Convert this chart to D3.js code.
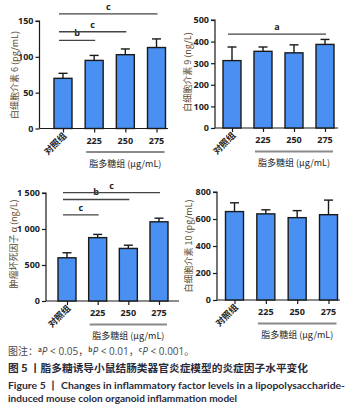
<!DOCTYPE html>
<html><head><meta charset="utf-8">
<script src="https://cdn.jsdelivr.net/npm/d3@7"></script>
<style>
html,body{margin:0;padding:0;background:#fff;}
svg{display:block;}
</style></head>
<body>
<svg id="c" width="352" height="416"></svg>
<script>
const categories = ["对照组", "225", "250", "275"];
const groupLabel = "脂多糖组 (μg/mL)";

const il6Values = [70, 95, 103, 113];
const il6Errors = [7, 7, 8, 12];
const il6Ticks = [0, 50, 100, 150];

const il9Values = [312, 355, 348, 387];
const il9Errors = [63, 20, 37, 23];
const il9Ticks = [0, 100, 200, 300, 400, 500];

const tnfValues = [600, 880, 730, 1100];
const tnfErrors = [70, 45, 45, 50];
const tnfTicks = [0, 500, 1000, 1500];
const tnfTickLabels = ["0", "500", "1 000", "1 500"];

const il10Values = [655, 638, 610, 632];
const il10Errors = [65, 30, 52, 108];
const il10Ticks = [0, 200, 400, 600, 800];

// significance: [fromIndex, toIndex, letter, value level]
const il6Sig = [[0, 1, "b", 123], [0, 2, "c", 135], [0, 3, "c", 160]];
const il9Sig = [[0, 3, "a", 435]];
const tnfSig = [[0, 1, "c", 1195], [0, 2, "b", 1410], [0, 3, "c", 1505]];
const il10Sig = [];

const svg = d3.select("#c");
const barFill = "#4a90f2";
const dark = "#1a1a1a";
const labelColor = "#5c4a2e";

function panel(o) {
  const g = svg.append("g");
  const y = d3.scaleLinear().domain([0, o.max]).range([o.y0, o.yTop]);
  const x = d3.scalePoint().domain(categories).range([o.c0, o.c1]);
  const bw = 18;

  const yAxis = d3.axisLeft(y).tickValues(o.ticks).tickSize(4).tickPadding(2)
    .tickFormat((d, i) => o.tickLabels ? o.tickLabels[i] : d);
  const ya = g.append("g").attr("transform", `translate(${o.ax},0)`).call(yAxis);
  ya.select(".domain").attr("stroke", dark).attr("stroke-width", 1.2)
    .attr("d", `M-4,${o.yTop}H0V${o.y0}`);
  ya.selectAll(".tick line").attr("stroke", dark).attr("stroke-width", 1.2);
  ya.selectAll(".tick text").attr("fill", "#222").attr("font-size", 9)
    .attr("font-weight", "bold").attr("font-family", "'Open Sans', sans-serif");

  const xAxis = d3.axisBottom(x).tickSize(4).tickFormat("");
  const xa = g.append("g").attr("transform", `translate(0,${o.y0})`).call(xAxis);
  xa.select(".domain").attr("stroke", dark).attr("stroke-width", 1.2)
    .attr("d", `M${o.ax},0H${o.axEnd}`);
  xa.selectAll(".tick line").attr("stroke", dark).attr("stroke-width", 1.2);

  g.selectAll("rect.bar").data(o.values).enter().append("rect")
    .attr("x", (d, i) => x(categories[i]) - bw / 2)
    .attr("y", d => y(d))
    .attr("width", bw)
    .attr("height", d => o.y0 - y(d))
    .attr("fill", barFill).attr("stroke", dark).attr("stroke-width", 1.4);

  o.values.forEach((v, i) => {
    const cx = x(categories[i]);
    g.append("line").attr("x1", cx).attr("x2", cx)
      .attr("y1", y(v)).attr("y2", y(v + o.errors[i]))
      .attr("stroke", dark).attr("stroke-width", 1.4);
    g.append("line").attr("x1", cx - 4.5).attr("x2", cx + 4.5)
      .attr("y1", y(v + o.errors[i])).attr("y2", y(v + o.errors[i]))
      .attr("stroke", dark).attr("stroke-width", 1.4);
  });

  o.sig.forEach(s => {
    const x1 = x(categories[s[0]]) - 4, x2 = x(categories[s[1]]) + 1;
    const yy = y(s[3]);
    g.append("line").attr("x1", x1).attr("x2", x2).attr("y1", yy).attr("y2", yy)
      .attr("stroke", "#444").attr("stroke-width", 1.3);
    g.append("text").attr("x", (x1 + x2) / 2).attr("y", yy - 4)
      .attr("text-anchor", "middle").attr("font-size", 9).attr("font-weight", "bold")
      .attr("font-family", "'Open Sans', sans-serif").attr("fill", "#222").text(s[2]);
  });

  categories.forEach((c, i) => {
    const cx = x(c);
    if (i === 0) {
      g.append("text")
        .attr("transform", `translate(${cx + 4},${o.y0 + 8}) rotate(-45)`)
        .attr("text-anchor", "end").attr("font-size", 9).attr("font-weight", "bold")
        .attr("font-family", "'Noto Sans CJK SC', sans-serif").attr("fill", "#222").text(c);
    } else {
      g.append("text").attr("x", cx).attr("y", o.y0 + 15)
        .attr("text-anchor", "middle").attr("font-size", 9).attr("font-weight", "bold")
        .attr("font-family", "'Open Sans', sans-serif").attr("fill", "#222").text(c);
    }
  });

  const gx1 = x(categories[1]) - 8, gx2 = x(categories[3]) + 8;
  g.append("line").attr("x1", gx1).attr("x2", gx2)
    .attr("y1", o.y0 + 23.5).attr("y2", o.y0 + 23.5)
    .attr("stroke", "#8a8a8a").attr("stroke-width", 1.8);
  g.append("text").attr("x", (gx1 + gx2) / 2).attr("y", o.y0 + 38)
    .attr("text-anchor", "middle").attr("font-size", 9)
    .attr("font-family", "'Noto Sans CJK SC', sans-serif").attr("fill", "#222").text(groupLabel);

  g.append("text")
    .attr("transform", `translate(${o.lx},${o.ly}) rotate(-90)`)
    .attr("text-anchor", "middle").attr("font-size", 9)
    .attr("font-family", "'Noto Sans CJK SC', sans-serif").attr("fill", labelColor).text(o.ylabel);
}

panel({ values: il6Values, errors: il6Errors, ticks: il6Ticks, max: 150, sig: il6Sig,
  ax: 39.5, axEnd: 168, y0: 128.5, yTop: 21, c0: 63, c1: 156.5,
  lx: 18, ly: 75, ylabel: "白细胞介素 6 (pg/mL)" });
panel({ values: il9Values, errors: il9Errors, ticks: il9Ticks, max: 500, sig: il9Sig,
  ax: 215, axEnd: 338, y0: 128, yTop: 20, c0: 232, c1: 325,
  lx: 191, ly: 72, ylabel: "白细胞介素 9 (ng/L)" });
panel({ values: tnfValues, errors: tnfErrors, ticks: tnfTicks, tickLabels: tnfTickLabels, max: 1500, sig: tnfSig,
  ax: 46, axEnd: 179, y0: 301, yTop: 193, c0: 67, c1: 159,
  lx: 17, ly: 244, ylabel: "肿瘤坏死因子 α (ng/L)" });
panel({ values: il10Values, errors: il10Errors, ticks: il10Ticks, max: 800, sig: il10Sig,
  ax: 217, axEnd: 340, y0: 300, yTop: 192, c0: 234.5, c1: 328.5,
  lx: 192, ly: 246, ylabel: "白细胞介素 10 (pg/mL)" });

const cap = svg.append("g").attr("font-family", "'Noto Sans CJK SC', sans-serif");
const t1 = cap.append("text").attr("x", 8).attr("y", 355).attr("font-size", 10).attr("fill", "#4a4a4a");
const latin = "'Open Sans', sans-serif";
t1.append("tspan").text("图注：");
[["a", "0.05，"], ["b", "0.01，"], ["c", "0.001。"]].forEach(p => {
  t1.append("tspan").attr("font-size", 6.5).attr("font-weight", "bold").attr("dy", -3.5).text(p[0]);
  t1.append("tspan").attr("dy", 3.5).attr("font-style", "italic").attr("font-family", latin).text("P");
  t1.append("tspan").attr("font-family", latin).text(" < " + p[1].replace(/[，。]/, ""));
  t1.append("tspan").text(p[1].slice(-1));
});

cap.append("text").attr("x", 8).attr("y", 372).attr("font-size", 10.5).attr("font-weight", "bold")
  .attr("fill", "#2a2a3a").attr("textLength", 300).attr("lengthAdjust", "spacingAndGlyphs")
  .text("图 5 丨脂多糖诱导小鼠结肠类器官炎症模型的炎症因子水平变化");
cap.append("text").attr("x", 8).attr("y", 389).attr("font-size", 10).attr("font-weight", "bold")
  .attr("font-family", "Lato, sans-serif").attr("fill", "#2a2a3a")
  .attr("textLength", 337).attr("lengthAdjust", "spacingAndGlyphs")
  .text("Figure 5 丨 Changes in inflammatory factor levels in a lipopolysaccharide-");
cap.append("text").attr("x", 8).attr("y", 402).attr("font-size", 10).attr("font-weight", "bold")
  .attr("font-family", "Lato, sans-serif").attr("fill", "#2a2a3a")
  .attr("textLength", 229).attr("lengthAdjust", "spacingAndGlyphs")
  .text("induced mouse colon organoid inflammation model");
</script>
</body></html>
